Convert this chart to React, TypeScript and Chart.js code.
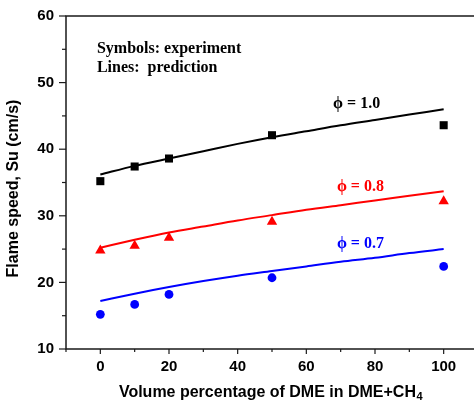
import React, { useEffect, useRef } from "react";
import { Chart, registerables } from "chart.js";

Chart.register(...registerables);

// ---- data ----
const xPred = [0, 10, 20, 30, 40, 50, 60, 70, 80, 90, 100];
const predPhi10 = [36.2, 37.5, 38.6, 39.7, 40.8, 41.8, 42.7, 43.6, 44.4, 45.2, 46.0];
const predPhi08 = [25.2, 26.4, 27.5, 28.4, 29.3, 30.1, 30.9, 31.6, 32.3, 33.0, 33.7];
const predPhi07 = [17.2, 18.3, 19.3, 20.2, 21.0, 21.7, 22.4, 23.1, 23.7, 24.4, 25.0];

const xExp = [0, 10, 20, 50, 100];
const expPhi10 = [35.2, 37.4, 38.6, 42.1, 43.6];
const expPhi08 = [24.8, 25.5, 26.7, 29.1, 32.2];
const expPhi07 = [15.2, 16.7, 18.2, 20.7, 22.4];

const xTitle = "Volume percentage of DME in DME+CH";
const xTitleSub = "4";
const yTitle = "Flame speed, Su (cm/s)";
const noteLines = ["Symbols: experiment", "Lines:  prediction"];
const phiLabels = ["\u03D5 = 1.0", "\u03D5 = 0.8", "\u03D5 = 0.7"];

const SANS = '"Liberation Sans", Arial, sans-serif';
const SERIF = '"Liberation Serif", "Times New Roman", serif';

const pts = (xs: number[], ys: number[]) => xs.map((x, i) => ({ x, y: ys[i] }));

const decorPlugin = {
  id: "decor",
  afterDraw(chart: any) {
    const { ctx, chartArea: a, scales } = chart;
    const xs = scales.x;
    const ys = scales.y;
    ctx.save();
    // frame
    ctx.strokeStyle = "#1a1a1a";
    ctx.lineWidth = 1.5;
    ctx.beginPath();
    ctx.rect(a.left, a.top, a.right - a.left, a.bottom - a.top);
    ctx.stroke();
    // x ticks
    ctx.lineWidth = 1.2;
    for (let v = -10; v <= 110; v += 10) {
      const px = xs.getPixelForValue(v);
      const len = v % 20 === 0 ? 5 : 3;
      ctx.beginPath();
      ctx.moveTo(px, a.bottom);
      ctx.lineTo(px, a.bottom + len);
      ctx.stroke();
    }
    // y ticks
    for (let v = 10; v <= 60; v += 5) {
      const py = ys.getPixelForValue(v);
      const len = v % 10 === 0 ? 7 : 4;
      ctx.beginPath();
      ctx.moveTo(a.left, py);
      ctx.lineTo(a.left - len, py);
      ctx.stroke();
    }
    // x title
    ctx.fillStyle = "#000";
    ctx.font = `bold 16px ${SANS}`;
    ctx.textBaseline = "alphabetic";
    ctx.textAlign = "left";
    const w1 = ctx.measureText(xTitle).width;
    ctx.font = `bold 11px ${SANS}`;
    const w2 = ctx.measureText(xTitleSub).width;
    const startX = 270.5 - (w1 + w2) / 2;
    ctx.font = `bold 16px ${SANS}`;
    ctx.fillText(xTitle, startX, 396.5);
    ctx.font = `bold 11px ${SANS}`;
    ctx.fillText(xTitleSub, startX + w1 + 0.5, 400);
    // y title
    ctx.save();
    ctx.translate(18, 188.5);
    ctx.rotate(-Math.PI / 2);
    ctx.font = `bold 16px ${SANS}`;
    ctx.textAlign = "center";
    ctx.fillText(yTitle, 0, 0);
    ctx.restore();
    // notes
    ctx.font = `bold 16px ${SERIF}`;
    ctx.textAlign = "left";
    ctx.fillStyle = "#000";
    ctx.fillText(noteLines[0], xs.getPixelForValue(-1), ys.getPixelForValue(54.45));
    ctx.fillText(noteLines[1], xs.getPixelForValue(-1), ys.getPixelForValue(51.6));
    ctx.fillStyle = "#000";
    ctx.fillText(phiLabels[0], xs.getPixelForValue(67.8), ys.getPixelForValue(46.2));
    ctx.fillStyle = "#ff0000";
    ctx.fillText(phiLabels[1], xs.getPixelForValue(68.9), ys.getPixelForValue(33.7));
    ctx.fillStyle = "#0000ff";
    ctx.fillText(phiLabels[2], xs.getPixelForValue(68.9), ys.getPixelForValue(25.2));
    ctx.restore();
  },
};

export default function App() {
  const ref = useRef<HTMLCanvasElement | null>(null);
  useEffect(() => {
    if (!ref.current) return;
    const lineDs = (data: number[], color: string) => ({
      type: "line" as const,
      data: pts(xPred, data),
      borderColor: color,
      backgroundColor: color,
      borderWidth: 2,
      pointRadius: 0,
      showLine: true,
      cubicInterpolationMode: "monotone" as const,
      fill: false,
    });
    const markDs = (data: number[], color: string, style: string, r: number) => ({
      type: "scatter" as const,
      data: pts(xExp, data),
      borderColor: color,
      backgroundColor: color,
      pointStyle: style,
      pointRadius: r,
      pointBorderWidth: 0,
      showLine: false,
    });
    const chart = new Chart(ref.current, {
      type: "scatter",
      data: {
        datasets: [
          markDs(expPhi10, "#000000", "rect", 5.7),
          markDs(expPhi08, "#ff0000", "triangle", 6),
          markDs(expPhi07, "#0000ff", "circle", 4.4),
          lineDs(predPhi10, "#000000"),
          lineDs(predPhi08, "#ff0000"),
          lineDs(predPhi07, "#0000ff"),
        ] as any,
      },
      options: {
        animation: false,
        responsive: false,
        devicePixelRatio: 1,
        layout: { autoPadding: false, padding: { left: 0, top: 16, right: 0, bottom: 0 } },
        plugins: { legend: { display: false }, tooltip: { enabled: false } },
        scales: {
          x: {
            type: "linear",
            min: -10,
            max: 110,
            border: { display: false },
            grid: { display: false, drawTicks: false },
            ticks: {
              stepSize: 10,
              autoSkip: false,
              maxRotation: 0,
              padding: 9,
              color: "#000",
              font: { family: SANS, size: 15, weight: "bold" },
              callback: (v: any) => (Number(v) % 20 === 0 ? String(v) : ""),
            },
            afterFit: (s: any) => {
              s.height = 51;
              s.paddingLeft = 0;
              s.paddingRight = 0;
            },
          },
          y: {
            type: "linear",
            min: 10,
            max: 60,
            border: { display: false },
            grid: { display: false, drawTicks: false },
            ticks: {
              stepSize: 5,
              autoSkip: false,
              padding: 12,
              color: "#000",
              font: { family: SANS, size: 15, weight: "bold" },
              callback: (v: any) => (Number(v) % 10 === 0 ? String(v) : ""),
            },
            afterFit: (s: any) => {
              s.width = 66;
              s.paddingTop = 0;
              s.paddingBottom = 0;
            },
          },
        },
      } as any,
      plugins: [decorPlugin],
    });
    return () => chart.destroy();
  }, []);
  return (
    <div
      style={{
        position: "fixed",
        left: 0,
        top: 0,
        width: 474,
        height: 400,
        overflow: "hidden",
        background: "#fff",
      }}
    >
      <canvas ref={ref} width={478} height={400} style={{ width: 478, height: 400, display: "block" }} />
    </div>
  );
}
